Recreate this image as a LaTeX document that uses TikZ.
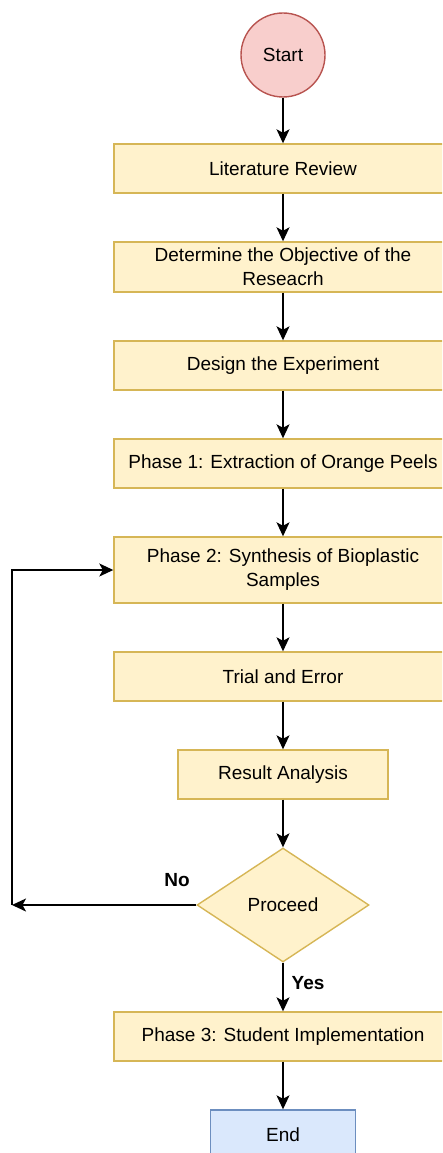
\documentclass[tikz,border=0pt]{standalone}
\usepackage{fontspec}
\setmainfont{Liberation Sans}
\usetikzlibrary{shapes.geometric,arrows.meta}
\definecolor{boxfill}{HTML}{FFF2CC}
\definecolor{boxline}{HTML}{D6B656}
\definecolor{startfill}{HTML}{F8CECC}
\definecolor{startline}{HTML}{B85450}
\definecolor{endfill}{HTML}{DAE8FC}
\definecolor{endline}{HTML}{6C8EBF}
\tikzstyle{stepbox}=[rectangle,fill=boxfill,draw=boxline,line width=1.4pt,minimum width=338pt,minimum height=49pt,inner sep=0pt,align=center,font=\fontsize{19}{24}\selectfont]
\tikzstyle{startnode}=[circle,fill=startfill,draw=startline,line width=1.4pt,minimum size=84pt,inner sep=0pt,font=\fontsize{19}{24}\selectfont]
\tikzstyle{endnode}=[rectangle,fill=endfill,draw=endline,line width=1.4pt,minimum width=145pt,minimum height=49pt,inner sep=0pt,font=\fontsize{19}{24}\selectfont]
\tikzstyle{decide}=[diamond,fill=boxfill,draw=boxline,line width=1.4pt,minimum width=172pt,minimum height=114pt,inner sep=0pt,font=\fontsize{19}{24}\selectfont]
\tikzstyle{lbl}=[inner sep=0pt,font=\fontsize{19}{24}\selectfont\bfseries]
\tikzstyle{arrow}=[line width=1.4pt,-{Stealth[length=14pt,width=13pt,inset=3.5pt]}]

\begin{document}
\begin{tikzpicture}[x=1pt,y=1pt]
    \clip (0,0) rectangle (442,-1153);
    \node[startnode] (start) at (283,-55) {Start};
    \node[stepbox] (lit) at (283,-168.5) {Literature Review};
    \node[stepbox,minimum height=50pt] (obj) at (283,-267) {Determine the Objective of the\\Reseacrh};
    \node[stepbox] (design) at (283,-365.5) {Design the Experiment};
    \node[stepbox] (ph1) at (283,-463.5) {Phase 1: Extraction of Orange Peels};
    \node[stepbox,minimum height=66pt] (ph2) at (283,-570) {Phase 2: Synthesis of Bioplastic\\Samples};
    \node[stepbox] (trial) at (283,-676.5) {Trial and Error};
    \node[stepbox,minimum width=210pt] (result) at (283,-774.5) {Result Analysis};
    \node[decide] (proceed) at (283,-905) {Proceed};
    \node[stepbox] (ph3) at (283,-1036.5) {Phase 3: Student Implementation};
    \node[endnode] (end) at (283,-1134.5) {End};
    \coordinate (back) at (12,-905);
    \node[lbl] (no) at (177,-880) {No};
    \node[lbl] (yes) at (308,-983) {Yes};

    \foreach \from/\to in {start/lit,lit/obj,obj/design,design/ph1,ph1/ph2,ph2/trial,trial/result,result/proceed,proceed/ph3,ph3/end}
    \draw[arrow] (\from) -- (\to);
    \draw[arrow] (proceed.west) -- (back);
    \draw[arrow] (back) |- (ph2.west);
\end{tikzpicture}
\end{document}
